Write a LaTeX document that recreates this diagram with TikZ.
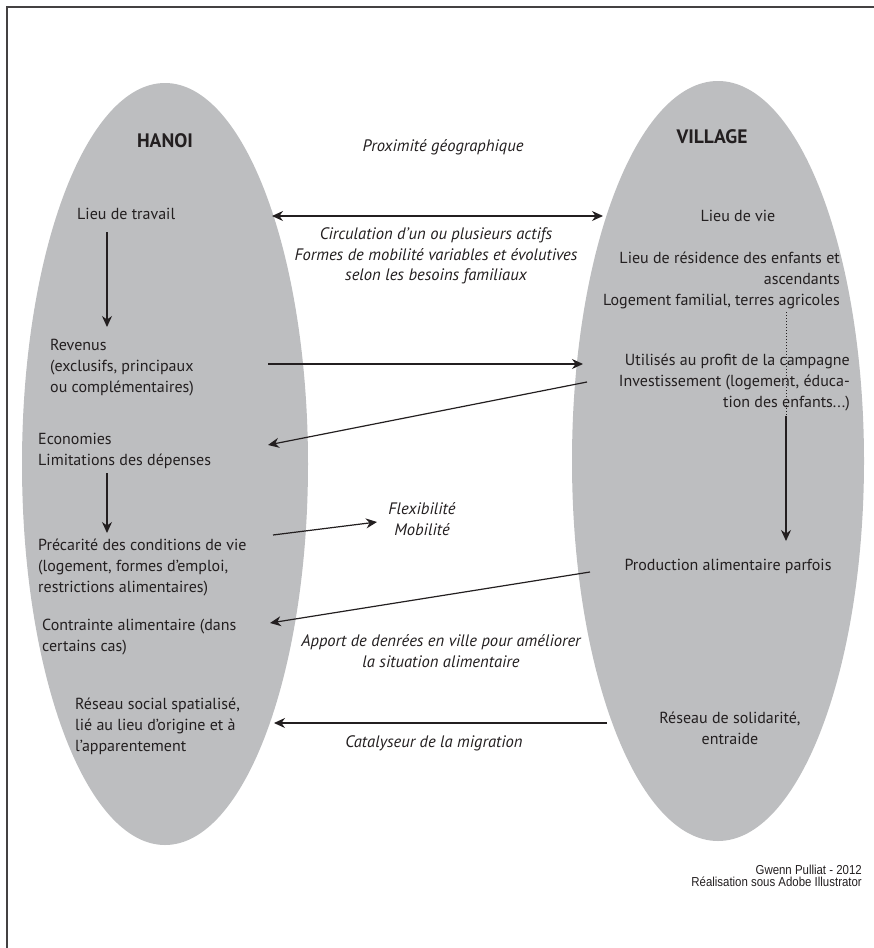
\documentclass[tikz,border=0pt]{standalone}
\usepackage{fontspec}
\setmainfont{PT Sans}
\newfontfamily\creditfont[FakeStretch=0.88]{Liberation Sans}
\usetikzlibrary{arrows.meta}

\definecolor{bulle}{RGB}{189,190,192}
\definecolor{encre}{RGB}{35,31,32}

\tikzset{
  >={Stealth[length=11pt,width=10pt]},
  lien/.style={->, encre, line width=1.2pt},
  texte/.style={encre, inner sep=0pt, font=\fontsize{16}{21}\selectfont},
  ital/.style={texte, align=center, font=\fontsize{16.6}{20.5}\selectfont\itshape},
  titre/.style={texte, font=\fontsize{19.5}{21}\selectfont\bfseries},
}

\begin{document}
\begin{tikzpicture}[x=1pt,y=-1pt]
  \useasboundingbox (0,0) rectangle (874,948);
  \draw[encre!85, line width=1.5pt] (874,7) -- (7,7) -- (7,948);

  % les deux bulles
  \fill[bulle] (165,464) ellipse [x radius=143pt, y radius=381pt];
  \fill[bulle] (718,461) ellipse [x radius=146pt, y radius=380pt];

  \node[titre] (hanoi) at (165,141) {HANOI};
  \node[titre] (village) at (712,137) {VILLAGE};
  \node[ital] (proximite) at (443,147) {Proximité géographique};

  % cote Hanoi
  \node[texte, anchor=west] (travail) at (77,214) {Lieu de travail};
  \node[texte, anchor=west, align=left] (revenus) at (50,368)
    {Revenus\\(exclusifs, principaux\\ou complémentaires)};
  \node[texte, anchor=west, align=left] (economies) at (38,451)
    {Economies\\Limitations des dépenses};
  \node[texte, anchor=west, align=left] (precarite) at (38,567)
    {Précarité des conditions de vie\\(logement, formes d’emploi,\\restrictions alimentaires)};
  \node[texte, anchor=west, align=left] (contrainte) at (42,637)
    {Contrainte alimentaire (dans\\certains cas)};
  \node[texte, anchor=west, align=left] (social) at (75,726)
    {Réseau social spatialisé,\\lié au lieu d’origine et à\\l’apparentement};

  % entre les deux
  \node[ital] (circulation) at (436,256)
    {Circulation d’un ou plusieurs actifs\\Formes de mobilité variables et évolutives\\selon les besoins familiaux};
  \node[ital] (flexibilite) at (422,519) {Flexibilité\\Mobilité};
  \node[ital] (apport) at (441,651)
    {Apport de denrées en ville pour améliorer\\la situation alimentaire};
  \node[ital] (catalyseur) at (434,743) {Catalyseur de la migration};

  % cote village
  \node[texte] (vie) at (738,216) {Lieu de vie};
  \node[texte, anchor=east, align=right] (residence) at (840,280)
    {Lieu de résidence des enfants et\\ascendants\\Logement familial, terres agricoles};
  \node[texte, anchor=east, align=right] (utilises) at (850,382)
    {Utilisés au profit de la campagne\\Investissement (logement, éduca-\\tion des enfants...)};
  \node[texte] (production) at (728,566) {Production alimentaire parfois};
  \node[texte, align=center] (solidarite) at (730,728) {Réseau de solidarité,\\entraide};

  \node[encre, inner sep=0pt, anchor=east, align=right,
    font=\creditfont\fontsize{13}{11.5}\selectfont] (credit) at (862,876)
    {Gwenn Pulliat - 2012\\Réalisation sous Adobe Illustrator};

  % extremites des fleches
  \coordinate (travail-d) at (272,216);
  \coordinate (vie-g) at (603,216);
  \coordinate (travail-bas) at (107,232);
  \coordinate (revenus-haut) at (107,327);
  \coordinate (revenus-d) at (268,364);
  \coordinate (utilises-g) at (583,364);
  \coordinate (invest-g) at (587,382);
  \coordinate (economies-d) at (268,445);
  \coordinate (economies-bas) at (107,473);
  \coordinate (precarite-haut) at (107,533);
  \coordinate (precarite-d) at (273,535);
  \coordinate (flex-g) at (377,522);
  \coordinate (production-g) at (590,572);
  \coordinate (contrainte-d) at (270,623);
  \coordinate (solidarite-g) at (607,723);
  \coordinate (social-d) at (274,723);
  \coordinate (residence-bas) at (786,312);
  \coordinate (utilises-mil) at (786,416);
  \coordinate (production-haut) at (786,541);

  \draw[lien, <->] (travail-d) -- (vie-g);
  \draw[lien] (travail-bas) -- (revenus-haut);
  \draw[lien] (revenus-d) -- (utilises-g);
  \draw[lien] (invest-g) -- (economies-d);
  \draw[lien] (economies-bas) -- (precarite-haut);
  \draw[lien] (precarite-d) -- (flex-g);
  \draw[lien] (production-g) -- (contrainte-d);
  \draw[lien] (solidarite-g) -- (social-d);
  \draw[encre, line width=1pt, dotted] (residence-bas) -- (utilises-mil);
  \draw[lien] (utilises-mil) -- (production-haut);
\end{tikzpicture}
\end{document}
